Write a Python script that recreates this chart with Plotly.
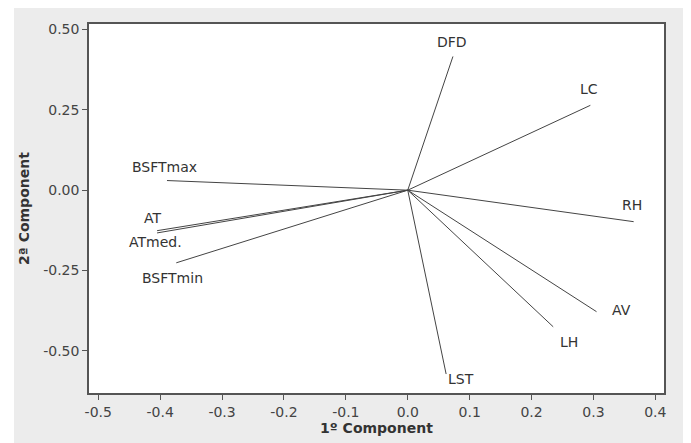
import plotly.graph_objects as go

# Loadings (1st component, 2nd component)
variables = ["DFD", "LC", "RH", "AV", "LH", "LST", "BSFTmax", "AT", "ATmed.", "BSFTmin"]
comp1 = [0.073, 0.295, 0.365, 0.305, 0.235, 0.062, -0.389, -0.405, -0.405, -0.374]
comp2 = [0.416, 0.264, -0.098, -0.378, -0.425, -0.572, 0.030, -0.126, -0.133, -0.226]

x_ticks = [-0.5, -0.4, -0.3, -0.2, -0.1, 0.0, 0.1, 0.2, 0.3, 0.4]
y_ticks = [0.50, 0.25, 0.00, -0.25, -0.50]

# label offsets in pixels (style)
label_shift = {
    "DFD": (-1, 14), "LC": (-1, 16), "RH": (-2, 17), "AV": (25, 2),
    "LH": (16, -15), "LST": (15, -5), "BSFTmax": (-2, 14), "AT": (-5, 13),
    "ATmed.": (-2, -9), "BSFTmin": (-4, -15),
}

font_family = "DejaVu Sans"

fig = go.Figure()
for name, x, y in zip(variables, comp1, comp2):
    fig.add_trace(go.Scatter(x=[0, x], y=[0, y], mode="lines",
                             line=dict(color="#444444", width=1),
                             showlegend=False, hoverinfo="skip"))
    dx, dy = label_shift[name]
    fig.add_annotation(x=x, y=y, text=name, showarrow=False,
                       xshift=dx, yshift=dy,
                       font=dict(family=font_family, size=14, color="#333333"))

# page body has an 8px default margin; margins compensate for it
L, T, W, H = 81, 16, 575, 369
fig.update_layout(
    width=691, height=443,
    margin=dict(l=L, r=691 - L - W, t=T, b=443 - T - H),
    paper_bgcolor="#ececec",
    plot_bgcolor="white",
    font=dict(family=font_family, size=14, color="#444444"),
    xaxis=dict(
        range=[-0.515, 0.414],
        tickvals=x_ticks,
        ticktext=[f"{v:.1f}" for v in x_ticks],
        ticks="outside", ticklen=5, tickcolor="#555555",
        showline=True, mirror=True, linecolor="#555555", linewidth=1.5,
        showgrid=False, zeroline=False,
        title=dict(text="<b>1º Component</b>", standoff=5,
                   font=dict(family=font_family, size=14, color="#333333")),
    ),
    yaxis=dict(
        range=[-0.631, 0.517],
        tickvals=y_ticks,
        ticktext=[f"{v:.2f}" for v in y_ticks],
        ticks="outside", ticklen=5, tickcolor="#555555",
        showline=True, mirror=True, linecolor="#555555", linewidth=1.5,
        showgrid=False, zeroline=False,
        title=dict(text="<b>2ª Component</b>", standoff=10,
                   font=dict(family=font_family, size=14, color="#333333")),
    ),
    shapes=[
        dict(type="rect", xref="paper", yref="paper",
             x0=-L / W - 0.05, x1=(6 - L) / W, y0=-0.3, y1=1.3,
             fillcolor="white", line=dict(width=0), layer="above"),
    ],
)

fig.write_html("out.html")
